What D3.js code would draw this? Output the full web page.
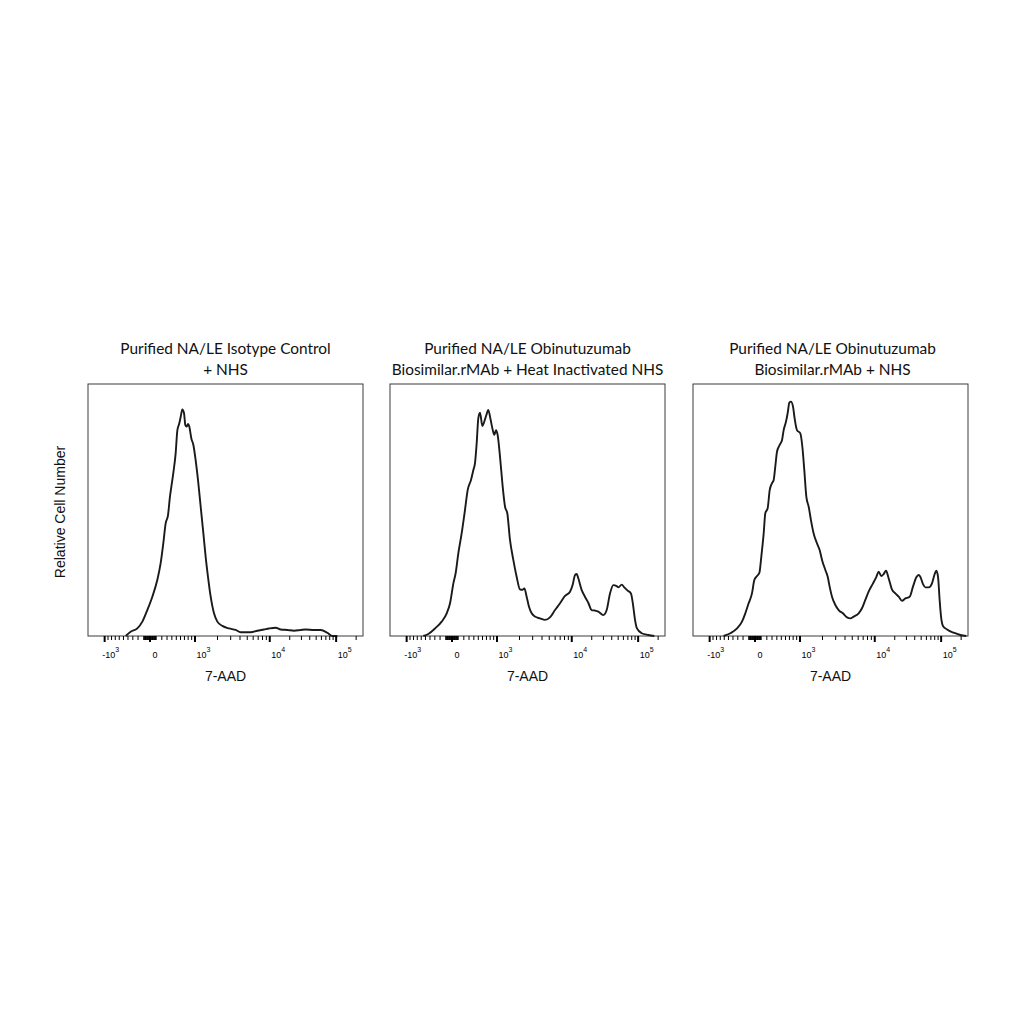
<!DOCTYPE html>
<html>
<head>
<meta charset="utf-8">
<script src="https://cdn.jsdelivr.net/npm/d3@7"></script>
<style>
  html, body { margin: 0; padding: 0; background: #fff; }
  svg { display: block; }
</style>
</head>
<body>
<svg id="chart" width="1024" height="1024"></svg>
<script>
// ---------------- DATA ----------------
// Panel titles
const panelTitles = [
  ["Purified NA/LE Isotype Control", "+ NHS"],
  ["Purified NA/LE Obinutuzumab", "Biosimilar.rMAb + Heat Inactivated NHS"],
  ["Purified NA/LE Obinutuzumab", "Biosimilar.rMAb + NHS"]
];
const xAxisTitle = "7-AAD";
const yAxisTitle = "Relative Cell Number";

// Histogram curves: x = display channel (0-256), y = relative cell number (% of axis height)
const isotypeChannel = [35.1,39.7,45.9,50.6,55.2,59.9,64.5,67.6,70.1,72.3,74.5,76.3,77.6,79.4,81.6,83.2,85.0,86.3,87.8,89.4,90.6,91.8,93.1,94.3,96.2,98.1,100.2,102.4,104.9,107.4,109.5,111.7,114.2,117.3,120.4,125.1,131.3,137.5,142.1,151.4,157.6,163.8,168.5,174.7,179.4,185.6,191.8,198.0,202.6,210.4,216.6,222.8,227.5,232.1];
const isotypeCount   = [0,1.7,3.0,5.7,10.3,15.6,22.2,28.8,36.8,44.7,48.0,55.3,59.3,64.6,72.5,81.7,84.4,87.0,89.9,88.4,83.7,83.1,84.1,83.1,78.4,75.8,69.8,61.9,51.3,40.7,31.5,23.5,15.6,9.0,5.7,4.0,3.0,2.4,1.5,1.5,2.1,2.6,3.0,3.3,2.6,2.4,2.1,2.4,2.6,2.4,2.4,1.3,0,0];

const heatInactChannel = [31.0,35.7,41.9,48.1,52.8,55.9,59.0,61.1,63.6,66.7,69.8,72.3,75.4,77.6,79.1,80.7,82.2,83.8,86.0,87.8,89.7,91.5,93.4,95.3,97.1,98.7,100.2,102.4,104.6,107.1,109.2,111.7,114.8,117.9,121.0,123.2,125.1,127.2,129.4,131.9,135.0,139.6,144.3,148.9,153.6,158.3,162.9,167.6,170.0,172.2,173.8,175.3,178.4,181.5,184.6,187.7,190.8,193.9,198.6,201.7,204.8,207.9,211.0,212.6,215.7,218.1,221.2,224.3,226.5,228.1,229.9,234.3,240.5,246.1];
const heatInactCount   = [0,0.8,3.0,5.7,9.0,13.0,20.9,24.9,32.8,40.7,50.0,57.9,61.9,65.9,68.5,76.5,86.4,88.6,83.3,85.1,87.7,89.7,86.4,82.4,79.8,81.7,79.8,71.2,60.6,51.3,48.7,38.1,30.2,23.5,18.5,18.3,18.9,15.6,11.6,9.0,7.7,7.0,6.4,7.4,10.3,13.0,15.9,17.6,20.2,24.2,24.6,22.9,18.3,15.6,13.2,10.3,10.1,9.7,8.3,10.3,16.9,20.2,19.8,19.3,20.4,19.3,18.0,16.9,11.6,6.4,3.0,1.1,0.4,0];

const nhsChannel = [28.5,34.8,41.0,45.6,48.7,51.8,54.9,57.1,59.6,61.8,63.6,65.8,67.3,69.5,71.4,73.5,75.1,76.6,78.2,80.7,82.9,84.4,86.6,88.1,89.7,91.2,93.1,94.6,96.8,99.9,101.8,103.6,105.5,107.7,109.8,112.3,115.4,117.9,120.1,123.2,125.4,127.2,129.4,132.5,135.6,139.6,143.4,146.5,149.6,154.2,157.3,160.4,163.5,167.6,170.7,172.8,175.3,177.5,179.7,182.1,185.2,188.4,191.5,194.6,197.7,201.7,204.8,207.9,210.1,211.6,214.1,216.3,219.4,222.5,225.0,226.5,228.1,229.6,230.9,232.7,236.5,242.7,248.9,254.4];
const nhsCount   = [0,1.1,3.0,5.7,9.0,13.0,16.9,22.2,23.8,25.1,31.5,40.7,48.7,50.7,57.9,60.6,61.9,67.2,73.1,75.8,77.8,81.7,85.1,88.4,92.6,93.0,91.0,86.4,81.7,80.4,75.1,65.9,55.3,51.3,46.0,40.7,36.8,34.1,30.2,26.2,23.5,19.6,15.6,12.3,10.3,9.0,7.4,7.0,7.7,9.0,11.0,14.3,17.6,20.9,23.5,25.5,23.8,24.6,25.9,22.9,18.5,16.9,15.6,14.0,14.9,15.6,19.6,23.3,24.2,23.5,20.6,19.3,19.3,20.9,24.6,25.9,23.5,14.3,7.7,4.0,2.6,1.3,0.4,0];

// Axis ticks (7-AAD fluorescence values)
const majorTickValues = [-1000, 0, 1000, 10000, 100000];
const majorTickBase   = ["-10", "0", "10", "10", "10"];
const majorTickExp    = ["3", "", "3", "4", "5"];
const minorTickValues = [
  -900,-800,-700,-600,-500,-400,-300,-200,-100,
  -90,-80,-70,-60,-50,-40,-30,-20,-10,
  10,20,30,40,50,60,70,80,90,
  100,200,300,400,500,600,700,800,900,
  2000,3000,4000,5000,6000,7000,8000,9000,
  20000,30000,40000,50000,60000,70000,80000,90000,
  200000
];

// ---------------- LAYOUT ----------------
const panelLefts = [88, 390, 693];
const panelTop = 384, panelW = 275, panelH = 252;
// display-channel anchors of the biexponential axis for -10^3, 0, 10^3, 10^4, 10^5
const biexAnchors = [15.5, 57.7, 99.6, 169.2, 231.0];

const svg = d3.select("#chart");

// biexponential-like display transform -> decade units
function decade(v) {
  const a = Math.abs(v);
  if (a <= 1000) return Math.sign(v) * Math.log1p(a / 1000) / Math.LN2;
  return Math.sign(v) * (1 + Math.log10(a / 1000));
}
const valueToChannel = d3.scaleLinear().domain([-1, 0, 1, 2, 3]).range(biexAnchors);

const x = d3.scaleLinear().domain([0, 256]).range([0, panelW]);
const y = d3.scaleLinear().domain([0, 100]).range([panelH, 0]);

const series = [
  [isotypeChannel, isotypeCount],
  [heatInactChannel, heatInactCount],
  [nhsChannel, nhsCount]
];

const line = d3.line()
  .x(d => x(d[0]))
  .y(d => y(d[1]))
  .curve(d3.curveMonotoneX);

const sans = "'Liberation Sans', Arial, sans-serif";

panelLefts.forEach((left, i) => {
  const g = svg.append("g").attr("transform", `translate(${left},${panelTop})`);

  // frame
  g.append("rect")
    .attr("x", 0).attr("y", 0)
    .attr("width", panelW).attr("height", panelH)
    .attr("fill", "none").attr("stroke", "#3a3a3a").attr("stroke-width", 1);

  // curve
  const pts = series[i][0].map((c, k) => [c, series[i][1][k]]);
  g.append("path")
    .datum(pts)
    .attr("d", line)
    .attr("fill", "none")
    .attr("stroke", "#1a1a1a")
    .attr("stroke-width", 1.9)
    .attr("stroke-linejoin", "round");

  // minor ticks
  g.selectAll(".minor").data(minorTickValues).enter().append("line")
    .attr("x1", d => x(valueToChannel(decade(d))))
    .attr("x2", d => x(valueToChannel(decade(d))))
    .attr("y1", panelH).attr("y2", panelH + 4)
    .attr("stroke", "#000").attr("stroke-width", 1);

  // major ticks
  g.selectAll(".major").data(majorTickValues).enter().append("line")
    .attr("x1", d => x(valueToChannel(decade(d))))
    .attr("x2", d => x(valueToChannel(decade(d))))
    .attr("y1", panelH).attr("y2", panelH + 6)
    .attr("stroke", "#000").attr("stroke-width", 2);

  // tick labels
  majorTickValues.forEach((v, k) => {
    const px = x(valueToChannel(decade(v)));
    const dx = v < 0 ? -2.5 : (v === 0 ? 2.5 : 1.5);
    const t = g.append("text")
      .attr("x", px + dx).attr("y", panelH + 21.5)
      .attr("font-family", sans).attr("font-size", 9)
      .attr("fill", "#000")
      .text(majorTickBase[k]);
    if (majorTickExp[k]) {
      t.append("tspan").attr("dy", -5.5).attr("font-size", 7).text(majorTickExp[k]);
    }
  });

  // x axis title
  g.append("text")
    .attr("x", panelW / 2).attr("y", panelH + 45)
    .attr("text-anchor", "middle")
    .attr("font-family", sans).attr("font-size", 14)
    .attr("fill", "#111")
    .text(xAxisTitle);

  // panel title
  panelTitles[i].forEach((ln, k) => {
    g.append("text")
      .attr("x", panelW / 2 + (i === 2 ? 2 : 0)).attr("y", -30 + k * 21)
      .attr("text-anchor", "middle")
      .attr("font-family", "Lato, 'Open Sans', sans-serif").attr("font-size", 15.4)
      .attr("fill", "#111")
      .text(ln);
  });
});

// y axis title
svg.append("text")
  .attr("transform", `translate(65,${panelTop + panelH / 2 + 2}) rotate(-90)`)
  .attr("text-anchor", "middle")
  .attr("font-family", sans).attr("font-size", 14)
  .attr("fill", "#111")
  .text(yAxisTitle);
</script>
</body>
</html>
